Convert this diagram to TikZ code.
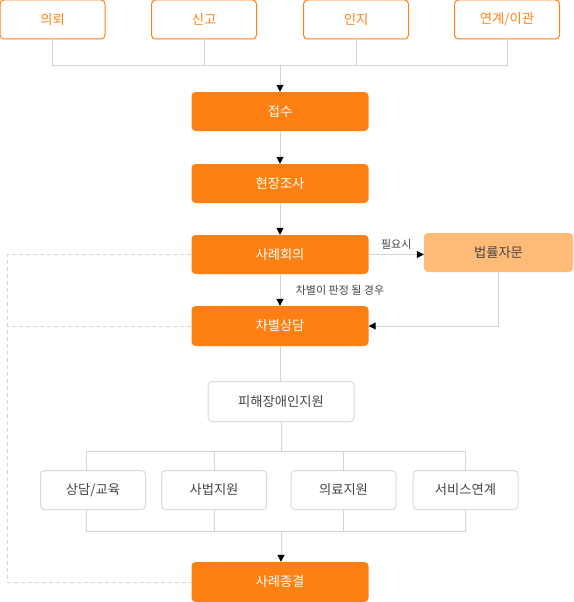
\documentclass[tikz,border=0pt]{standalone}
\usepackage{fontspec}
\setmainfont{Noto Sans CJK KR}
\usetikzlibrary{arrows.meta}
\definecolor{mainorange}{HTML}{FF8012}
\definecolor{lightorange}{HTML}{FFBB77}
\definecolor{linegray}{HTML}{D4D4D4}
\definecolor{boxgray}{HTML}{DADADA}
\definecolor{textgray}{HTML}{444444}

\begin{document}
\begin{tikzpicture}[x = 1pt, y = -1pt,
    topbox/.style = {draw=mainorange, line width=1pt, rounded corners=4pt, text=mainorange,
        minimum width=105pt, minimum height=39pt, inner sep=0pt, font=\fontsize{13.3}{16}\selectfont},
    mainbox/.style = {fill=mainorange, rounded corners=4pt, text=white,
        minimum width=177pt, minimum height=39pt, inner sep=0pt, font=\fontsize{13.3}{16}\selectfont},
    lawbox/.style = {fill=lightorange, rounded corners=4pt, text=textgray,
        minimum width=149pt, minimum height=39pt, inner sep=0pt, font=\fontsize{13.3}{16}\selectfont},
    subbox/.style = {draw=boxgray, line width=1pt, rounded corners=4pt, text=textgray,
        minimum width=105pt, minimum height=39pt, inner sep=0pt, font=\fontsize{13.3}{16}\selectfont},
    link/.style = {draw=linegray, line width=1pt},
    arr/.style = {link, -{Triangle[width=7pt, length=7pt, color=black]}},
    back/.style = {link, dash pattern=on 4pt off 3pt},
    note/.style = {text=textgray, font=\fontsize{11}{13}\selectfont}]
    \useasboundingbox (0,0) rectangle (573,602);

    % Intake channels
    \node[topbox] (request) at (52.5,19.5) {의뢰};
    \node[topbox] (report) at (204,19.5) {신고};
    \node[topbox] (aware) at (356,19.5) {인지};
    \node[topbox] (transfer) at (507,19.5) {연계/이관};

    % Main steps
    \node[mainbox] (intake) at (280,111.5) {접수};
    \node[mainbox] (survey) at (280,183.5) {현장조사};
    \node[mainbox] (meeting) at (280,254.5) {사례회의};
    \node[lawbox] (legal) at (498.5,252.5) {법률자문};
    \node[mainbox, minimum height=40pt] (counsel) at (280,326) {차별상담};

    % Support
    \node[subbox, minimum width=146pt, minimum height=40pt] (support) at (281,401.5) {피해장애인지원};
    \node[subbox] (edu) at (93,490) {상담/교육};
    \node[subbox] (legalaid) at (214,490) {사법지원};
    \node[subbox] (medical) at (343.5,490) {의료지원};
    \node[subbox] (service) at (465.5,490) {서비스연계};
    \node[mainbox, minimum height=40pt] (close) at (280,582) {사례종결};

    % Joints
    \coordinate (topjoin) at (280,66);
    \coordinate (split) at (281,451);
    \coordinate (merge) at (281,531);

    % Connectors
    \foreach \src in {request,report,aware,transfer}
        \draw[link] (\src.south) |- (topjoin);
    \draw[arr] (topjoin) -- (intake.north);
    \draw[arr] (intake) -- (survey);
    \draw[arr] (survey) -- (meeting);
    \draw[arr] (meeting) -- node[note, right=12pt] {차별이 판정 될 경우} (counsel);
    \draw[arr] (meeting.east) -- node[note, above=1pt] {필요시} (meeting.east -| legal.west);
    \draw[arr] (legal.south) |- (counsel.east);
    \draw[link] (counsel.south) -- (counsel.south |- support.north);

    % Tree of support
    \draw[link] (support.south) -- (split);
    \draw[link] (split) -| ([xshift=-6.5pt]edu.north);
    \draw[link] (split) -| (legalaid.north);
    \draw[link] (split) -| (medical.north);
    \draw[link] (split) -| (service.north);
    \draw[link] ([xshift=-6.5pt]edu.south) |- (merge);
    \draw[link] (legalaid.south) |- (merge);
    \draw[link] (medical.south) |- (merge);
    \draw[link] (service.south) |- (merge);
    \draw[arr] (merge) -- (merge |- close.north);

    % Dashed returns
    \draw[back] (meeting.west) -- ++(-184,0) |- (close.west);
    \draw[back] (counsel.west) -- ++(-184,0);
\end{tikzpicture}
\end{document}
